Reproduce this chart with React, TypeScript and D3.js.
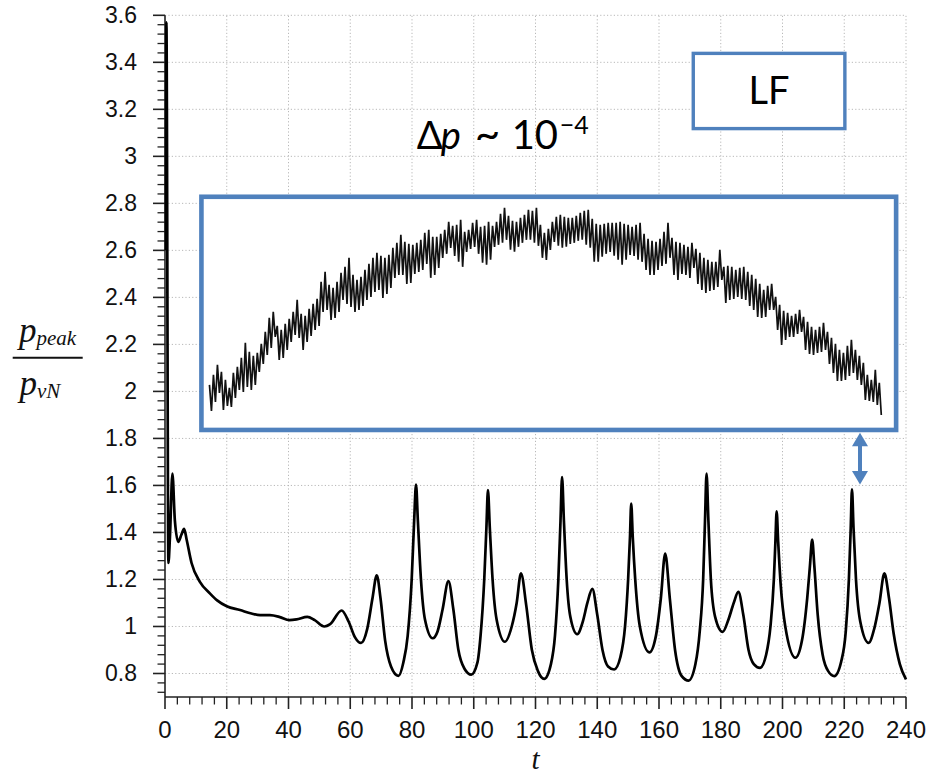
import React from "react";
import * as d3 from "d3";

const W = 934;
const H = 776;

// main series: t and p_peak / p_vN
const times = [
  0.3, 0.45, 1.1, 1.6, 2.4, 3.2, 4.3, 5.3, 6.2, 7.0, 8.6, 11.3, 14.6, 17, 20, 24.3, 28, 30.8, 34, 37.2,
  40.3, 42.6, 46.1, 48.5, 51.6, 53.5, 57.2, 59.5, 61.5, 63.5, 65.5, 67.2, 68.6, 69.8, 71.3, 73.2, 75.6,
  77.2, 78.6, 79.9, 80.7, 81.3, 81.9, 82.9, 84.2, 86.7, 88.3, 89.9, 91.8, 93.4, 95.0, 97.0, 99.2,
  101.2, 102.2, 103.4, 104.1, 104.6, 105.2, 106.1, 107.4, 110.1, 112.3, 113.9, 115.3, 117.0, 118.8, 120.8, 122.8,
  125.0, 126.3, 127.4, 128.1, 128.6, 129.2, 130.1, 131.3, 133.5, 135.3, 136.8, 138.4, 140.0, 141.7, 143.5, 145.5,
  147.5, 149.0, 150.0, 150.6, 151.0, 151.5, 152.3, 153.8, 156.9, 159.0, 160.6, 162.0, 163.5, 165.2, 167.3, 169.6,
  171.8, 173.2, 174.3, 174.9, 175.4, 176.0, 176.8, 178.2, 180.6, 182.5, 184.2, 185.7, 187.3, 189.0, 190.7, 192.7,
  194.7, 196.1, 197.2, 197.7, 198.1, 198.6, 199.4, 200.9, 204.2, 206.3, 208.0, 208.9, 209.6, 210.3, 211.4, 213.0,
  214.8, 216.8, 219.0, 220.5, 221.5, 222.1, 222.5, 223.0, 223.8, 225.2, 227.9, 229.7, 231.4, 233.0, 234.5, 236.0,
  238.0, 240.0,
];
const pRatio = [
  2.6, 3.57, 1.27, 1.38, 1.65, 1.45, 1.36, 1.39, 1.415, 1.37, 1.27, 1.19, 1.14, 1.11, 1.086, 1.07, 1.055, 1.048, 1.048, 1.04,
  1.027, 1.03, 1.041, 1.027, 1.0, 1.01, 1.068, 1.02, 0.955, 0.93, 0.99, 1.12, 1.218, 1.12, 0.94, 0.83, 0.79,
  0.847, 0.96, 1.2, 1.45, 1.604, 1.45, 1.2, 1.03, 0.95, 0.98, 1.072, 1.193, 1.072, 0.902, 0.82, 0.795,
  0.847, 0.96, 1.2, 1.42, 1.58, 1.42, 1.2, 1.03, 0.935, 1.0, 1.1, 1.226, 1.09, 0.902, 0.81, 0.777,
  0.84, 0.96, 1.2, 1.45, 1.635, 1.45, 1.2, 1.04, 0.967, 1.02, 1.1, 1.16, 1.05, 0.9, 0.83, 0.817,
  0.87, 1.0, 1.2, 1.38, 1.523, 1.38, 1.2, 1.0, 0.89, 0.96, 1.12, 1.31, 1.12, 0.9, 0.79, 0.77,
  0.84, 0.98, 1.2, 1.45, 1.65, 1.45, 1.2, 1.04, 0.977, 1.03, 1.1, 1.147, 1.05, 0.9, 0.84, 0.824,
  0.88, 1.0, 1.2, 1.36, 1.49, 1.36, 1.18, 1.0, 0.867, 0.94, 1.12, 1.26, 1.37, 1.26, 1.05, 0.88,
  0.81, 0.789, 0.85, 0.98, 1.2, 1.42, 1.583, 1.42, 1.2, 1.02, 0.93, 0.99, 1.1, 1.226, 1.12, 0.97,
  0.84, 0.775,
];

const xTickValues = [0, 20, 40, 60, 80, 100, 120, 140, 160, 180, 200, 220, 240];
const yTickValues = [0.8, 1, 1.2, 1.4, 1.6, 1.8, 2, 2.2, 2.4, 2.6, 2.8, 3, 3.2, 3.4, 3.6];

// inset (Δp ~ 1e-4 zoom), arbitrary units: spike highs and lows
const insetHi = [
  45, 55, 65, 58, 50, 42, 57, 63, 72, 87, 78, 74, 77, 86, 98, 112, 118, 104, 100, 106,
  111, 118, 130, 116, 114, 121, 126, 131, 148, 158, 145, 142, 148, 157, 163, 172, 155, 150, 153, 160,
  166, 172, 177, 174, 172, 175, 182, 187, 195, 188, 186, 185, 187, 190, 197, 200, 193, 193, 196, 200,
  208, 204, 205, 210, 198, 200, 207, 210, 203, 204, 208, 204, 208, 216, 222, 214, 209, 208, 212, 215,
  220, 219, 222, 205, 197, 201, 208, 213, 215, 213, 212, 212, 214, 217, 219, 220, 211, 206, 205, 206,
  207, 207, 207, 208, 206, 205, 203, 205, 207, 196, 191, 189, 188, 191, 198, 207, 192, 188, 187, 185,
  183, 187, 181, 177, 172, 170, 168, 168, 180, 163, 164, 163, 160, 162, 163, 158, 155, 151, 146, 140,
  144, 146, 133, 125, 119, 117, 114, 116, 120, 113, 108, 103, 100, 103, 107, 98, 92, 86, 80, 77,
  84, 90, 80, 74, 67, 55, 50, 60, 47,
];
const insetLo = [
  19, 28, 37, 20, 24, 23, 32, 40, 38, 43, 40, 45, 58, 66, 75, 82, 93, 70, 72, 80,
  88, 95, 92, 80, 88, 94, 100, 104, 118, 120, 110, 112, 118, 130, 126, 123, 118, 120, 124, 130,
  133, 138, 140, 132, 136, 142, 152, 155, 155, 146, 147, 156, 158, 160, 166, 152, 155, 162, 172, 176,
  182, 174, 168, 163, 178, 181, 183, 176, 167, 165, 170, 183, 185, 187, 190, 180, 178, 183, 187, 190,
  190, 187, 184, 172, 170, 180, 188, 184, 182, 183, 186, 187, 189, 190, 185, 182, 168, 168, 173, 176,
  178, 174, 170, 165, 170, 175, 174, 170, 168, 160, 155, 155, 160, 164, 166, 172, 155, 150, 156, 155,
  152, 162, 146, 140, 137, 139, 140, 143, 150, 127, 130, 131, 133, 131, 130, 124, 120, 113, 112, 113,
  120, 120, 100, 85, 90, 93, 93, 96, 98, 80, 76, 75, 77, 78, 80, 66, 57, 49, 49, 50,
  54, 57, 50, 45, 30, 29, 28, 25, 15,
];

const BLUE = "#4F81BD";

export default function App() {
  const x = d3.scaleLinear().domain([0, 240]).range([165, 906]);
  const y = d3.scaleLinear().domain([0.7, 3.6]).range([697, 15.3]);

  const pts = times.map((t, i) => [t, pRatio[i]] as [number, number]);
  const mainLine = d3
    .line<[number, number]>()
    .x((d) => x(d[0]))
    .y((d) => y(d[1]))
    .curve(d3.curveMonotoneX)(pts) as string;

  const xMinor = d3.range(0, 241, 4).filter((v) => v % 20 !== 0);
  const yMinor = d3
    .range(0, 73)
    .map((i) => 0.72 + i * 0.04)
    .filter((v) => Math.abs(v * 5 - Math.round(v * 5)) > 1e-6);

  // inset box (annotation) in data coords
  const boxT0 = 11.8, boxT1 = 236.8, boxV0 = 1.836, boxV1 = 2.828;
  const insetX = d3.scaleLinear().domain([0, insetHi.length - 0.5]).range([x(14.4), x(232)]);
  const insetY = d3.scaleLinear().domain([0, 233]).range([y(boxV0), y(boxV1)]);
  const insetPts: [number, number][] = [];
  insetHi.forEach((h, i) => {
    insetPts.push([i, h]);
    insetPts.push([i + 0.5, insetLo[i]]);
  });
  const insetLine = d3
    .line<[number, number]>()
    .x((d) => insetX(d[0]))
    .y((d) => insetY(d[1]))(insetPts) as string;

  // arrow
  const ax = x(225.1);
  const aTop = y(1.824);
  const aBot = y(1.604);
  const headL = 13.5;
  const headW = 8;

  const fmt = (v: number) => String(+v.toFixed(1));

  // Δp label position (data coords)
  const dpX = x(81.5);
  const dpY = y(3.03);

  return (
    <div style={{ position: "absolute", left: 0, top: 0 }}>
      <svg width={W} height={H} viewBox={`0 0 ${W} ${H}`} style={{ display: "block", background: "#fff" }}>
        <rect x={0} y={0} width={W} height={H} fill="#fff" />
        {/* grid */}
        <g stroke="#b8b8b8" strokeWidth={1} strokeDasharray="1.2,2.2">
          {xTickValues.filter((v) => v > 0).map((v) => (
            <line key={"gx" + v} x1={x(v)} x2={x(v)} y1={y(0.7)} y2={y(3.6)} />
          ))}
          {yTickValues.map((v) => (
            <line key={"gy" + v} x1={x(0)} x2={x(240)} y1={y(v)} y2={y(v)} />
          ))}
        </g>
        {/* axes */}
        <g stroke="#222" strokeWidth={1.6}>
          <line x1={x(0)} x2={x(0)} y1={y(0.7)} y2={y(3.6)} />
          <line x1={x(0)} x2={x(240)} y1={y(0.7)} y2={y(0.7)} />
          {yTickValues.map((v) => (
            <line key={"ty" + v} x1={x(0) - 12} x2={x(0)} y1={y(v)} y2={y(v)} />
          ))}
          {yMinor.map((v, i) => (
            <line key={"tym" + i} x1={x(0) - 7.5} x2={x(0)} y1={y(v)} y2={y(v)} strokeWidth={1.3} />
          ))}
          {xTickValues.map((v) => (
            <line key={"tx" + v} x1={x(v)} x2={x(v)} y1={y(0.7)} y2={y(0.7) + 12} />
          ))}
          {xMinor.map((v) => (
            <line key={"txm" + v} x1={x(v)} x2={x(v)} y1={y(0.7)} y2={y(0.7) + 7.5} strokeWidth={1.3} />
          ))}
        </g>
        {/* tick labels */}
        <g fontFamily="'Liberation Sans', Arial, sans-serif" fill="#111">
          {yTickValues.map((v) => (
            <text key={"ly" + v} x={137} y={y(v) + 8} fontSize={23} textAnchor="end">
              {fmt(v)}
            </text>
          ))}
          {xTickValues.map((v) => (
            <text key={"lx" + v} x={x(v)} y={737.5} fontSize={24} textAnchor="middle">
              {fmt(v)}
            </text>
          ))}
        </g>
        {/* axis titles */}
        <text x={x(120)} y={769} fontFamily="'Liberation Serif', 'Times New Roman', serif" fontStyle="italic" fontSize={29} textAnchor="middle" fill="#111">
          t
        </text>
        <g fontFamily="'Liberation Serif', 'Times New Roman', serif" fontStyle="italic" fill="#111">
          <text x={19} y={342} fontSize={35}>
            p<tspan fontSize={21} dy={3}>peak</tspan>
          </text>
          <line x1={12.7} x2={82.7} y1={357.7} y2={357.7} stroke="#111" strokeWidth={2} />
          <text x={19.5} y={395} fontSize={35}>
            p<tspan fontSize={21} dy={2.5}>vN</tspan>
          </text>
        </g>
        {/* main curve */}
        <path d={mainLine} fill="none" stroke="#000" strokeWidth={2.7} strokeLinejoin="round" />
        {/* inset box */}
        <rect
          x={x(boxT0)}
          y={y(boxV1)}
          width={x(boxT1) - x(boxT0)}
          height={y(boxV0) - y(boxV1)}
          fill="#fff"
          stroke={BLUE}
          strokeWidth={4.6}
        />
        <path d={insetLine} fill="none" stroke="#111" strokeWidth={1.7} strokeLinejoin="miter" strokeMiterlimit={2} />
        {/* arrow */}
        <g fill={BLUE} stroke="none">
          <rect x={ax - 2} y={aTop + headL - 1} width={4} height={aBot - aTop - 2 * headL + 2} />
          <polygon points={`${ax},${aTop} ${ax - headW},${aTop + headL} ${ax + headW},${aTop + headL}`} />
          <polygon points={`${ax},${aBot} ${ax - headW},${aBot - headL} ${ax + headW},${aBot - headL}`} />
        </g>
        {/* LF box */}
        <rect
          x={x(171.1)}
          y={y(3.438)}
          width={x(220.2) - x(171.1)}
          height={y(3.118) - y(3.438)}
          fill="#fff"
          stroke={BLUE}
          strokeWidth={3.4}
        />
        <text x={x(195.6)} y={y(3.221)} fontFamily="Lato, 'Open Sans', sans-serif" fontSize={38} textAnchor="middle" fill="#000">
          LF
        </text>
        {/* Δp label */}
        <text y={dpY} fontFamily="Lato, 'Open Sans', sans-serif" fontSize={38} fill="#000">
          <tspan x={dpX}>Δ</tspan>
          <tspan x={dpX + 24} fontStyle="italic">p</tspan>
          <tspan x={dpX + 58} fontSize={44}>~</tspan>
          <tspan x={dpX + 95} fontSize={40}>10</tspan>
          <tspan x={dpX + 143} fontSize={25} dy={-15}>−4</tspan>
        </text>
      </svg>
    </div>
  );
}
